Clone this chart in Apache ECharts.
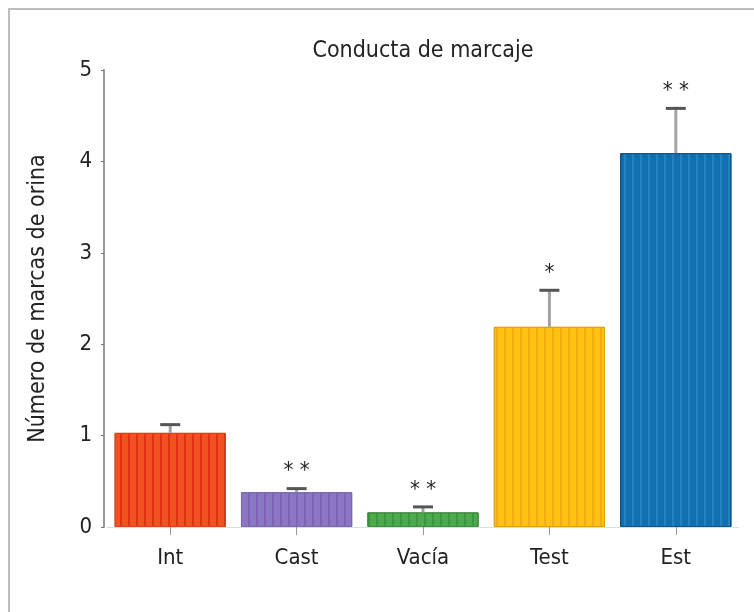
<!DOCTYPE html>
<html>
<head>
<meta charset="utf-8">
<script src="https://cdn.jsdelivr.net/npm/echarts@6/dist/echarts.min.js"></script>
<style>
  html, body { margin: 0; padding: 0; background: #fff; }
  #chart { width: 754px; height: 612px; }
</style>
</head>
<body>
<div id="chart"></div>
<script>
// data
var categories = ['Int', 'Cast', 'Vacía', 'Test', 'Est'];
var means = [1.03, 0.38, 0.16, 2.19, 4.09];
var errors = [0.09, 0.04, 0.06, 0.40, 0.49];
var marks = ['', '**', '**', '*', '**'];
var yTicks = [0, 1, 2, 3, 4, 5];

var barColors = ['#f2521f', '#8b78c4', '#4ea84c', '#ffc212', '#1170b0'];
var stripeColors = ['rgba(214,20,20,0.55)', 'rgba(120,70,170,0.45)', 'rgba(40,130,60,0.5)', 'rgba(235,150,20,0.5)', 'rgba(60,150,210,0.45)'];
var edgeColors = ['#d4461d', '#7a68b0', '#3f8a3d', '#dca312', '#0d4f80'];

var font = '"Liberation Sans Narrow", "DejaVu Sans Condensed", "Noto Sans", sans-serif';

var chart = echarts.init(document.getElementById('chart'), null, { renderer: 'canvas' });

var barData = means.map(function (v, i) {
    return {
        value: v,
        itemStyle: {
            color: barColors[i],
            borderColor: edgeColors[i],
            borderWidth: 1,
            decal: {
                symbol: 'rect',
                symbolSize: 1,
                dashArrayX: [[2, 6]],
                dashArrayY: [4, 0],
                color: stripeColors[i]
            }
        }
    };
});

var errData = means.map(function (v, i) {
    return [i, v, v + errors[i], marks[i]];
});

var option = {
    animation: false,
    textStyle: { fontFamily: font },
    title: {
        text: 'Conducta de marcaje',
        left: 418,
        top: 35,
        textAlign: 'center',
        textStyle: { fontFamily: font, fontSize: 23, fontWeight: 'normal', color: '#222' }
    },
    graphic: [{
        type: 'polyline',
        shape: { points: [[9, 612], [9, 9], [754, 9]] },
        style: { stroke: '#bdbdbd', lineWidth: 2, fill: null }
    }],
    grid: { left: 107, right: 15, top: 70, bottom: 85 },
    xAxis: {
        type: 'category',
        data: categories,
        axisLine: { show: true, lineStyle: { color: '#cfe3ef', width: 1 } },
        axisTick: { show: true, alignWithLabel: true, length: 8, lineStyle: { color: '#999' } },
        axisLabel: { margin: 20, fontSize: 22, color: '#222', fontFamily: font }
    },
    yAxis: {
        type: 'value',
        min: yTicks[0],
        max: yTicks[yTicks.length - 1],
        interval: 1,
        offset: 3,
        name: 'Número de marcas de orina',
        nameLocation: 'middle',
        nameGap: 54,
        nameTextStyle: { fontSize: 23, color: '#222', fontFamily: font },
        axisLine: { show: true, lineStyle: { color: '#999', width: 2 } },
        axisTick: { show: true, length: 3, lineStyle: { color: '#777' } },
        axisLabel: { margin: 12, fontSize: 22, color: '#222', fontFamily: font },
        splitLine: { show: false }
    },
    series: [{
        type: 'bar',
        data: barData,
        barCategoryGap: '12%',
        z: 2
    }, {
        type: 'custom',
        z: 3,
        data: errData,
        renderItem: function (params, api) {
            var x = api.value(0);
            var lo = api.coord([x, api.value(1)]);
            var hi = api.coord([x, api.value(2)]);
            var capW = 10;
            var kids = [{
                type: 'line',
                shape: { x1: lo[0], y1: lo[1], x2: hi[0], y2: hi[1] },
                style: { stroke: '#a3a3a3', lineWidth: 3 }
            }, {
                type: 'line',
                shape: { x1: hi[0] - capW, y1: hi[1], x2: hi[0] + capW, y2: hi[1] },
                style: { stroke: '#555', lineWidth: 3 }
            }];
            var m = marks[params.dataIndex];
            if (m) {
                kids.push({
                    type: 'text',
                    x: hi[0],
                    y: hi[1] - 17,
                    style: {
                        text: m.split('').join(' '),
                        fontSize: 22,
                        fontFamily: font,
                        fill: '#222',
                        align: 'center',
                        verticalAlign: 'middle'
                    }
                });
            }
            return { type: 'group', children: kids };
        }
    }]
};

chart.setOption(option);
</script>
</body>
</html>
